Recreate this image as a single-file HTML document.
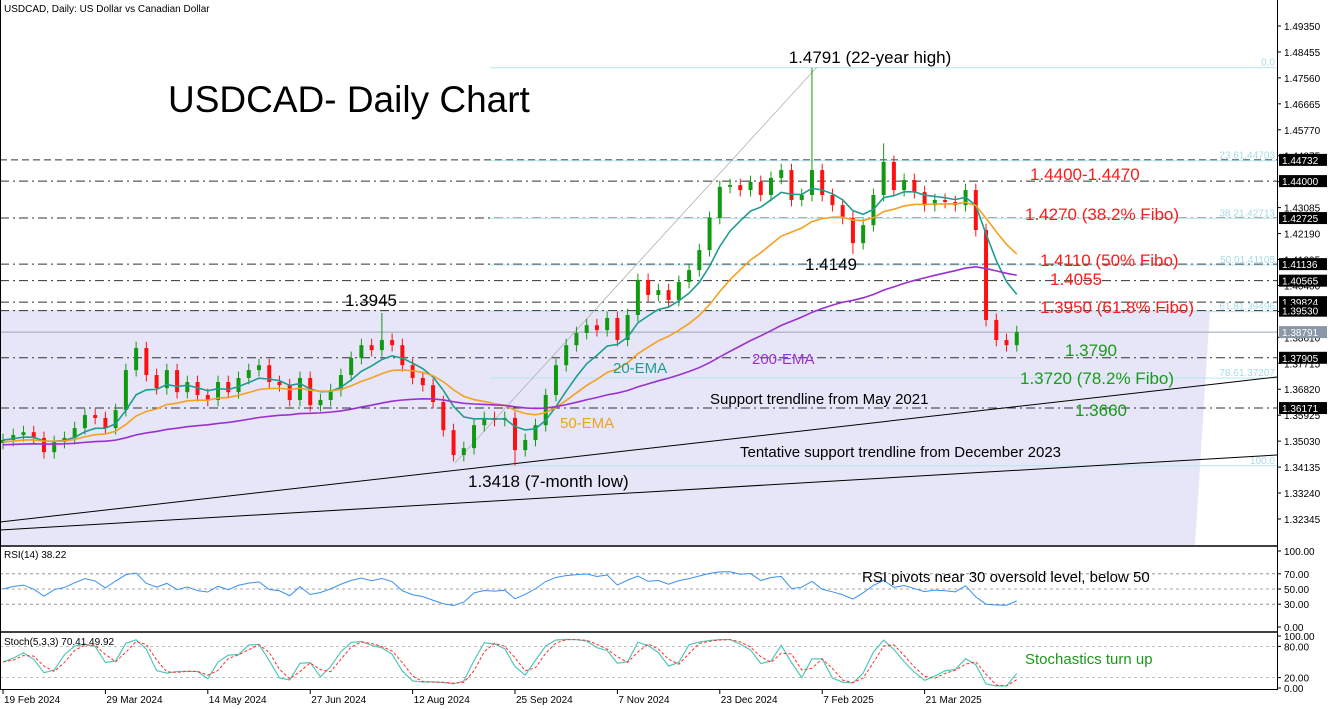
<!DOCTYPE html>
<html><head><meta charset="utf-8"><style>
html,body{margin:0;padding:0;background:#fff;}
svg{display:block;font-family:"Liberation Sans",sans-serif;}
</style></head><body>
<svg id="chart" width="1332" height="709" viewBox="0 0 1332 709" xmlns="http://www.w3.org/2000/svg">
<rect x="0" y="0" width="1332" height="709" fill="#fff"/>
<polygon points="0,310 1210,310 1195,545 0,545" fill="#e6e6f8"/>
<g id="levels"></g>
<g id="fibs"></g>
<line x1="455" y1="463" x2="817" y2="67" stroke="#b0b0b0" stroke-width="0.8"/>
<line x1="0" y1="522" x2="1277" y2="377" stroke="#000" stroke-width="1"/>
<line x1="0" y1="530" x2="1277" y2="455" stroke="#000" stroke-width="1"/>
<g id="candles"></g>
<g id="emas"></g>
<g id="rsi"></g>
<g id="stoch"></g>
<g id="axis"></g>
<g id="frame">
<line x1="0.5" y1="0" x2="0.5" y2="690" stroke="#000"/>
<line x1="1277.5" y1="0" x2="1277.5" y2="690" stroke="#000"/>
<line x1="0" y1="546" x2="1278" y2="546" stroke="#000" stroke-width="1.5"/>
<line x1="0" y1="632" x2="1278" y2="632" stroke="#000" stroke-width="1.5"/>
<line x1="0" y1="689.5" x2="1278" y2="689.5" stroke="#000"/>
</g>
<text x="4" y="12" font-size="10" fill="#000">USDCAD, Daily:  US Dollar vs Canadian Dollar</text>
<text x="168" y="112" font-size="37" fill="#000">USDCAD- Daily Chart</text>
<text x="870" y="63" font-size="17" text-anchor="middle" fill="#000">1.4791 (22-year high)</text>
<text x="345" y="306" font-size="17" fill="#000">1.3945</text>
<text x="805" y="270" font-size="17" fill="#000">1.4149</text>
<text x="468" y="487" font-size="17" fill="#000">1.3418 (7-month low)</text>
<g font-size="17" fill="#ff1a1a">
<text x="1030" y="180">1.4400-1.4470</text>
<text x="1025" y="220">1.4270 (38.2% Fibo)</text>
<text x="1040" y="266">1.4110 (50% Fibo)</text>
<text x="1050" y="285">1.4055</text>
<text x="1040" y="313">1.3950 (61.8% Fibo)</text>
</g>
<g font-size="17" fill="#1a9a1a">
<text x="1065" y="356">1.3790</text>
<text x="1020" y="384">1.3720 (78.2% Fibo)</text>
<text x="1075" y="416">1.3660</text>
</g>
<text x="613" y="373" font-size="15" fill="#1f9c90">20-EMA</text>
<text x="752" y="364" font-size="15" fill="#9b30d0">200-EMA</text>
<text x="560" y="428" font-size="15" fill="#f0a020">50-EMA</text>
<text x="710" y="404" font-size="15" fill="#000">Support trendline from May 2021</text>
<text x="740" y="457" font-size="15" fill="#000">Tentative support trendline from December 2023</text>
<text x="4" y="558" font-size="10" fill="#000">RSI(14) 38.22</text>
<text x="862" y="582" font-size="15" fill="#000">RSI pivots near 30 oversold level, below 50</text>
<text x="4" y="645" font-size="10" fill="#000">Stoch(5,3,3) 70.41 49.92</text>
<text x="1025" y="664" font-size="15" fill="#1a9a1a">Stochastics turn up</text>
</svg>
<script>
const closes=[1.3507,1.3524,1.3534,1.3514,1.3465,1.3500,1.3514,1.3548,1.3593,1.3583,
1.3548,1.3610,1.3748,1.3824,1.3731,1.3686,1.3748,1.3672,1.3707,1.3662,
1.3645,1.3707,1.3672,1.3721,1.3748,1.3765,1.3707,1.3696,1.3645,1.3721,
1.3627,1.3645,1.3679,1.3731,1.3790,1.3834,1.3817,1.3852,1.3834,1.3765,
1.3721,1.3696,1.3638,1.3541,1.3455,1.3479,1.3558,1.3583,1.3576,1.3583,
1.3472,1.3507,1.3558,1.3662,1.3765,1.3834,1.3876,1.3903,1.3886,1.3928,
1.3852,1.3938,1.4059,1.4007,1.4024,1.3990,1.4052,1.4093,1.4162,1.4273,
1.4380,1.4386,1.4369,1.4397,1.4352,1.4411,1.4438,1.4335,1.4352,1.4438,
1.4352,1.4317,1.4273,1.4186,1.4248,1.4352,1.4466,1.4369,1.4404,1.4362,
1.4317,1.4335,1.4328,1.4317,1.4369,1.4231,1.3921,1.3852,1.3834,1.3879];
const spikeIdx=[37,50,79,83,86];
const spikePrice=[1.3945,1.3418,1.4791,1.4149,1.4530];
const levelPrices=[1.44732,1.44000,1.42725,1.41136,1.40565,1.39824,1.39530,1.37905,1.36171];
const fibPct=["0.0","23.6","38.2","50.0","61.8","78.6","100.0"];
const fibPrices=[1.4791,1.44703,1.42713,1.41105,1.39496,1.37207,1.3418];
const axisTicks=[1.49350,1.48455,1.47560,1.46665,1.45770,1.44875,1.43980,1.43085,1.42190,1.41295,1.40400,1.39505,1.38610,1.37715,1.36820,1.35925,1.35030,1.34135,1.33240,1.32345];
const dateLabels=["19 Feb 2024","29 Mar 2024","14 May 2024","27 Jun 2024","12 Aug 2024","25 Sep 2024","7 Nov 2024","23 Dec 2024","7 Feb 2025","21 Mar 2025"];
const dateIdx=[0,10,20,30,40,50,60,70,80,90];
const currentPrice=1.38791;

const NS="http://www.w3.org/2000/svg";
const yP=p=>26+(1.4935-p)*2899;
const xI=i=>3+i*10.24;
const yR=v=>627-v*0.76;
const yS=v=>688-v*0.52;
function mk(parent,tag,attrs){const e=document.createElementNS(NS,tag);for(const k in attrs)e.setAttribute(k,attrs[k]);document.getElementById(parent).appendChild(e);return e;}

// levels
levelPrices.forEach((p,i)=>{
 const l=mk('levels','line',{x1:0,x2:1277,y1:yP(p),y2:yP(p),stroke:'#333','stroke-width':1,'stroke-dasharray':i==0?'7,4':'9,4,2,4'});
 
 
});
const cp=mk('levels','line',{x1:0,x2:1277,y1:yP(currentPrice),y2:yP(currentPrice),stroke:'#9aa4b0','stroke-width':1});


fibPrices.forEach((p,i)=>{
 const l=mk('fibs','line',{x1:490,x2:1277,y1:yP(p),y2:yP(p),stroke:'#b8e4ee','stroke-width':1});
 
 
 const t=mk('fibs','text',{x:1275,y:yP(p)-2,'font-size':10,'text-anchor':'end',fill:'#a8dce8'});
 t.textContent=i==0?'0.0':(i==6?'100.0':fibPct[i]+'1.'+String(p.toFixed(5)).slice(2));
 
 
});

// candles
closes.forEach((c,i)=>{
 const o=i==0?c-0.001:closes[i-1];
 let hi=Math.max(o,c)+0.0022, lo=Math.min(o,c)-0.0022;
 const s=spikeIdx.indexOf(i);
 if(s>=0){ if(spikePrice[s]>c) hi=spikePrice[s]; else lo=spikePrice[s]; }
 const col=c>=o?'#109a10':'#ff1010';
 const w=mk('candles','line',{x1:xI(i),x2:xI(i),y1:yP(hi),y2:yP(lo),stroke:col,'stroke-width':1});
 
 
 const top=yP(Math.max(o,c)),bot=yP(Math.min(o,c));
 const b=mk('candles','rect',{x:xI(i)-2,y:top,width:4,height:Math.max(1,bot-top),fill:col});
 
 
});

// EMAs
function ema(period,seed){const a=2/(period+1);let e=seed;return closes.map(c=>(e=e+(c-e)*a));}
const emaDefs=[[7,1.3507,'#1f9c90','ema20-line'],[17,1.3500,'#f5a020','ema50-line'],[60,1.3490,'#9b30d0','ema200-line']];
emaDefs.forEach(d=>{
 const v=ema(d[0],d[1]);
 const pl=mk('emas','polyline',{points:v.map((p,i)=>xI(i)+','+yP(p)).join(' '),fill:'none',stroke:d[2],'stroke-width':1.6});
 
 
});

// RSI
[70,50,30].forEach(v=>{
 const l=mk('rsi','line',{x1:0,x2:1277,y1:yR(v),y2:yR(v),stroke:'#888','stroke-dasharray':'3,3','stroke-width':0.8});
 
 
});
const rsiVals=[];{let ag=0.002,al=0.002,n=5;closes.forEach((c,i)=>{const d=i?c-closes[i-1]:0;ag=(ag*(n-1)+Math.max(d,0))/n;al=(al*(n-1)+Math.max(-d,0))/n;rsiVals.push(100-100/(1+ag/al));});}
const rl=mk('rsi','polyline',{points:rsiVals.map((v,i)=>xI(i)+','+yR(35+(v-50)*0.55+15)).join(' '),fill:'none',stroke:'#3a90f0','stroke-width':1});



// Stoch
[80,20].forEach(v=>{
 const l=mk('stoch','line',{x1:0,x2:1277,y1:yS(v),y2:yS(v),stroke:'#aaa','stroke-dasharray':'3,3','stroke-width':0.8});
 
 
});
const kRaw=closes.map((c,i)=>{const w=closes.slice(Math.max(0,i-3),i+1);const h=Math.max(...w)+0.002,l=Math.min(...w)-0.002;return 100*(c-l)/(h-l);});
const kV=kRaw.map((v,i)=>i?(v+kRaw[i-1])/2:v);
const dV=kV.map((v,i)=>i?(v+kV[i-1])/2:v);
const kl=mk('stoch','polyline',{points:kV.map((v,i)=>xI(i)+','+yS(v)).join(' '),fill:'none',stroke:'#50c8b8','stroke-width':1.2});


const dl=mk('stoch','polyline',{points:dV.map((v,i)=>xI(i)+','+yS(v)).join(' '),fill:'none',stroke:'#ff3030','stroke-width':1,'stroke-dasharray':'3,2'});



// axes
axisTicks.forEach(p=>{
 mk('axis','line',{x1:1277,x2:1281,y1:yP(p),y2:yP(p),stroke:'#000'});
 const t=mk('axis','text',{x:1284,y:yP(p)+4,'font-size':10,fill:'#000'});
 t.textContent=p.toFixed(5);
 
 
});
levelPrices.forEach(p=>{
 mk('axis','rect',{x:1279,y:yP(p)-6,width:48,height:12,fill:'#000'});
 const t=mk('axis','text',{x:1282,y:yP(p)+4,'font-size':10,fill:'#fff'});
 t.textContent=p.toFixed(5);
 
 
});
mk('axis','rect',{x:1279,y:yP(currentPrice)-6,width:48,height:12,fill:'#8a97a6'});
const ct=mk('axis','text',{x:1282,y:yP(currentPrice)+4,'font-size':10,fill:'#fff'});
ct.textContent=currentPrice.toFixed(5);


[[100,yR],[70,yR],[50,yR],[30,yR],[0,yR],[100,yS],[80,yS],[20,yS],[0,yS]].forEach(a=>{
 mk('axis','line',{x1:1277,x2:1281,y1:a[1](a[0]),y2:a[1](a[0]),stroke:'#000'});
 const t=mk('axis','text',{x:1284,y:a[1](a[0])+4,'font-size':10,fill:'#000'});
 t.textContent=a[0].toFixed(2);
 
 
});
dateLabels.forEach((d,k)=>{
 const x=xI(dateIdx[k]);
 mk('axis','line',{x1:x,x2:x,y1:689,y2:694,stroke:'#000'});
 const t=mk('axis','text',{x:x+1,y:703,'font-size':10,fill:'#000'});
 t.textContent=d;
 
 
});
</script>
</body></html>
